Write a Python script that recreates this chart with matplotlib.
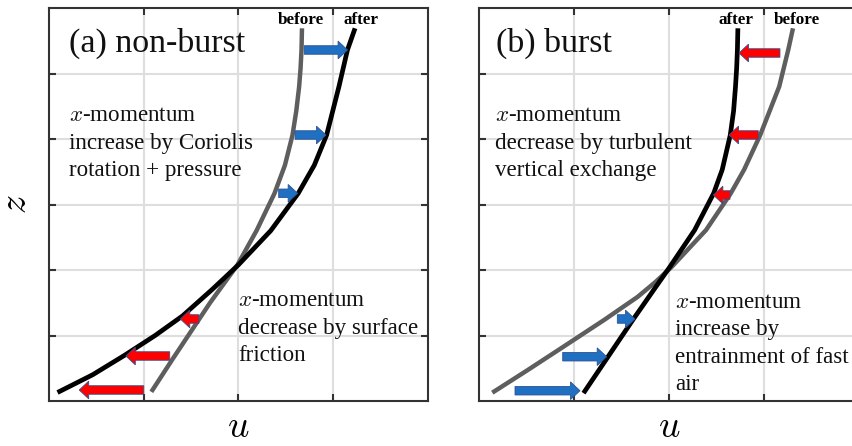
import numpy as np
import matplotlib.pyplot as plt

plt.rcParams['font.family'] = ['Liberation Serif', 'DejaVu Serif']
plt.rcParams['mathtext.fontset'] = 'cm'

# profils (u, z) -- grille 0..4 x 0..6
# (a) non-burst
u_avant_a = [1.08, 1.30, 1.47, 1.70, 1.99, 2.19, 2.38, 2.49, 2.57, 2.61, 2.64, 2.655, 2.665, 2.67]
z_avant_a = [0.14, 0.63, 1.00, 1.50, 2.08, 2.60, 3.17, 3.60, 4.06, 4.43, 4.80, 5.08, 5.36, 5.69]
u_apres_a = [0.09, 0.46, 0.80, 1.12, 1.41, 1.72, 2.00, 2.34, 2.63, 2.80, 2.93, 3.06, 3.15, 3.23]
z_apres_a = [0.13, 0.40, 0.70, 1.00, 1.30, 1.70, 2.08, 2.60, 3.17, 3.60, 4.06, 4.80, 5.36, 5.69]

# (b) burst
u_avant_b = [0.14, 0.51, 0.89, 1.32, 1.67, 1.86, 2.03, 2.39, 2.65, 2.79, 2.96, 3.16, 3.255, 3.305]
z_avant_b = [0.127, 0.47, 0.83, 1.24, 1.59, 1.82, 2.05, 2.61, 3.17, 3.53, 4.06, 4.80, 5.36, 5.69]
u_apres_b = [1.10, 1.36, 1.62, 1.865, 2.01, 2.27, 2.47, 2.56, 2.645, 2.68, 2.70, 2.712, 2.72, 2.725]
z_apres_b = [0.12, 0.68, 1.24, 1.75, 2.05, 2.61, 3.17, 3.53, 4.06, 4.43, 4.80, 5.08, 5.36, 5.69]

# fleches : (u depart, u pointe, z)
bleu_a = [(2.695, 3.151, 5.359), (2.597, 2.923, 4.061), (2.424, 2.624, 3.171)]
rouge_a = [(1.582, 1.386, 1.252), (1.274, 0.811, 0.687), (1.000, 0.319, 0.168)]
rouge_b = [(3.168, 2.737, 5.313), (2.940, 2.632, 4.061), (2.642, 2.467, 3.145)]
bleu_b = [(1.456, 1.642, 1.252), (0.881, 1.344, 0.676), (0.379, 1.063, 0.157)]

titres = ['(a) non-burst', '(b) burst']
textes_haut = ['$x$-momentum\nincrease by Coriolis\nrotation + pressure',
               '$x$-momentum\ndecrease by turbulent\nvertical exchange']
textes_bas = ['$x$-momentum\ndecrease by surface\nfriction',
              '$x$-momentum\nincrease by\nentrainment of fast\nair']

gris = '#5e5e5e'
c_bleu = '#1f6fc3'
c_rouge = '#ff0000'
c_bord = '#2f528f'

fig = plt.figure(figsize=(8.52, 4.46), dpi=100)
W, H = 852, 446
ax_a = fig.add_axes([49/W, 45/H, 379/W, 393/H])
ax_b = fig.add_axes([479/W, 45/H, 380/W, 393/H])


def fleche(ax, x0, x1, y, couleur):
    ax.arrow(x0, y, x1 - x0, 0, width=0.13, head_width=0.27, head_length=0.1,
             length_includes_head=True, fc=couleur, ec=c_bord, lw=0.6, zorder=4)


def zpx(p):
    # position verticale en pixels (depuis le haut) -> unites z
    return (401 - p) / 65.5


for ax in (ax_a, ax_b):
    ax.set_xlim(0, 4)
    ax.set_ylim(0, 6)
    ax.set_xticks([1, 2, 3])
    ax.set_yticks([1, 2, 3, 4, 5])
    ax.tick_params(direction='in', top=True, right=True, labelbottom=False,
                   labelleft=False, length=5, width=1.5, color='#333333')
    ax.grid(True, color='#dedede', lw=1.5)
    for s in ax.spines.values():
        s.set_linewidth(1.5)
        s.set_color('#333333')
    ax.text(0.5, -0.092, '$u$', transform=ax.transAxes, ha='center', va='baseline', fontsize=27)

ax_a.text(-0.084, 0.5, '$z$', transform=ax_a.transAxes, rotation=90,
          ha='center', va='center', fontsize=27)

kw = dict(ha='left', va='baseline', fontsize=16.6, linespacing=1.4, color='#111111')
kw_ligne = dict(solid_capstyle='butt', solid_joinstyle='round', zorder=3)

# (a)
ax_a.plot(u_avant_a, z_avant_a, color=gris, lw=3.2, **kw_ligne)
ax_a.plot(u_apres_a, z_apres_a, color='black', lw=3.4, **kw_ligne)
for x0, x1, y in bleu_a:
    fleche(ax_a, x0, x1, y, c_bleu)
for x0, x1, y in rouge_a:
    fleche(ax_a, x0, x1, y, c_rouge)
ax_a.text(2.658, 5.756, 'before', ha='center', va='baseline', fontsize=12.3, fontweight='bold')
ax_a.text(3.289, 5.756, 'after', ha='center', va='baseline', fontsize=12.3, fontweight='bold')
ax_a.text(0.21, zpx(52), titres[0], ha='left', va='baseline', fontsize=24.5, color='#111111')
ax_a.text(0.21, zpx(176), textes_haut[0], **kw)
ax_a.text(2.0, zpx(361), textes_bas[0], **kw)

# (b)
ax_b.plot(u_avant_b, z_avant_b, color=gris, lw=3.2, **kw_ligne)
ax_b.plot(u_apres_b, z_apres_b, color='black', lw=3.4, **kw_ligne)
for x0, x1, y in rouge_b:
    fleche(ax_b, x0, x1, y, c_rouge)
for x0, x1, y in bleu_b:
    fleche(ax_b, x0, x1, y, c_bleu)
ax_b.text(2.705, 5.756, 'after', ha='center', va='baseline', fontsize=12.3, fontweight='bold')
ax_b.text(3.347, 5.756, 'before', ha='center', va='baseline', fontsize=12.3, fontweight='bold')
ax_b.text(0.18, zpx(52), titres[1], ha='left', va='baseline', fontsize=24.5, color='#111111')
ax_b.text(0.168, zpx(176), textes_haut[1], **kw)
ax_b.text(2.063, zpx(390), textes_bas[1], **kw)

plt.savefig('out.png', dpi=100)
